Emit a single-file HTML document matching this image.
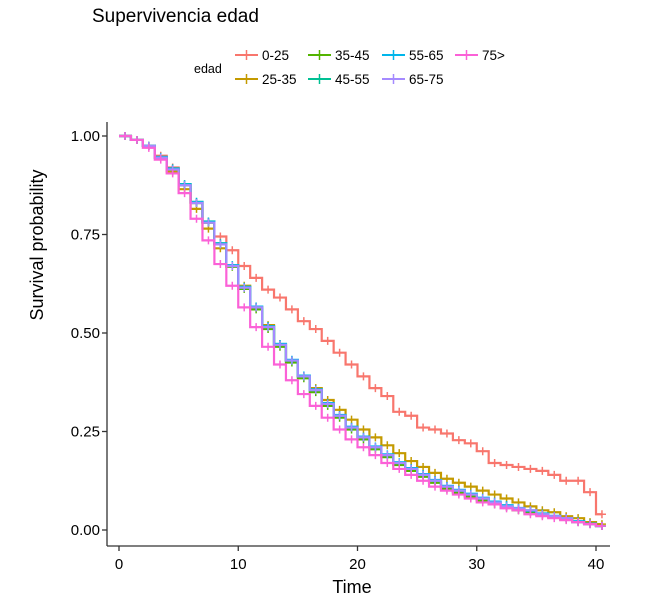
<!DOCTYPE html>
<html><head><meta charset="utf-8"><style>
body{margin:0;background:#fff;}
svg{display:block;font-family:"Liberation Sans",Arial,sans-serif;}
</style></head><body>
<svg id="chart" width="652" height="610">
<text x="92" y="22" font-size="19" fill="#000">Supervivencia edad</text>
<g id="legend">
<text x="194" y="73" font-size="12.5">edad</text>
</g>
<line x1="107" y1="122" x2="107" y2="546" stroke="#333" stroke-width="1.3"/>
<line x1="107" y1="546" x2="610" y2="546" stroke="#333" stroke-width="1.3"/>
<g id="axes"></g>
<g id="series"></g>
<text x="352" y="593" font-size="18" text-anchor="middle">Time</text>
<text transform="translate(43,245) rotate(-90)" font-size="18" text-anchor="middle">Survival probability</text>
</svg>
<script>
const groups = ["0-25","25-35","35-45","45-55","55-65","65-75","75>"];
const colors = ["#F8766D","#C49A00","#53B400","#00C094","#00B6EB","#A58AFF","#FB61D7"];
const xTicks = [0,10,20,30,40];
const yTicks = [0,0.25,0.5,0.75,1];
const yTickLabels = ["0.00","0.25","0.50","0.75","1.00"];
const s0_25 = [1,.99,.975,.95,.92,.875,.83,.78,.745,.71,.67,.64,.61,.59,.56,.53,.51,.48,.45,.42,.39,.36,.34,.30,.29,.26,.255,.245,.228,.22,.20,.17,.165,.16,.155,.15,.14,.125,.125,.096,.04];
const s25_35 = [1,.99,.975,.945,.91,.865,.815,.765,.715,.67,.62,.565,.52,.47,.43,.39,.36,.33,.305,.28,.255,.235,.215,.195,.175,.16,.145,.13,.12,.11,.10,.09,.08,.07,.06,.05,.045,.035,.03,.02,.015];
const s35_45 = [1,.99,.975,.945,.915,.875,.83,.78,.725,.668,.612,.56,.51,.465,.425,.385,.35,.315,.285,.255,.23,.205,.185,.165,.15,.135,.12,.105,.095,.085,.075,.065,.058,.05,.045,.038,.032,.027,.02,.015,.01];
const s45_55 = [1,.99,.975,.947,.918,.878,.833,.783,.728,.672,.617,.567,.517,.472,.43,.39,.355,.32,.29,.26,.235,.21,.19,.17,.155,.14,.125,.11,.10,.09,.08,.07,.062,.055,.048,.04,.035,.03,.022,.016,.01];
const s55_65 = [1,.99,.975,.946,.917,.877,.832,.782,.727,.672,.617,.567,.517,.472,.432,.392,.357,.322,.292,.262,.237,.212,.192,.172,.157,.142,.127,.112,.102,.092,.082,.072,.063,.056,.05,.042,.036,.03,.022,.016,.01];
const s65_75 = [1,.99,.975,.945,.915,.875,.83,.78,.725,.67,.615,.565,.515,.47,.43,.39,.355,.32,.29,.26,.235,.21,.19,.17,.155,.14,.125,.11,.10,.09,.08,.07,.06,.055,.05,.04,.035,.03,.02,.015,.01];
const s75 = [1,.99,.97,.94,.905,.855,.79,.735,.675,.62,.565,.515,.465,.42,.38,.345,.315,.285,.255,.23,.21,.19,.17,.155,.14,.125,.11,.10,.09,.08,.07,.065,.055,.05,.04,.035,.03,.025,.02,.015,.01];
const seriesVals = [s0_25,s25_35,s35_45,s45_55,s55_65,s65_75,s75];

const X = t => 119 + t*(596-119)/40;
const Y = v => 530 - v*(530-136);
const NS="http://www.w3.org/2000/svg";
const axes=document.getElementById('axes');
function mk(tag,attrs,parent){const e=document.createElementNS(NS,tag);for(const k in attrs)e.setAttribute(k,attrs[k]);parent.appendChild(e);return e;}
xTicks.forEach(t=>{
  const l=mk('line',{x1:X(t),x2:X(t),y1:546,y2:551,stroke:'#333','stroke-width':1.3},axes);
  
  
  const tx=mk('text',{x:X(t),y:569,'font-size':15,'text-anchor':'middle'},axes);
  tx.textContent=t;
  
  
});
yTicks.forEach((v,i)=>{
  const l=mk('line',{x1:102,x2:107,y1:Y(v),y2:Y(v),stroke:'#333','stroke-width':1.3},axes);
  
  
  const tx=mk('text',{x:100,y:Y(v)+5,'font-size':15,'text-anchor':'end'},axes);
  tx.textContent=yTickLabels[i];
  
  
});
const sg=document.getElementById('series');
seriesVals.forEach((vals,gi)=>{
  const g=mk('g',{},sg);
  
  
  let d='M'+X(0)+' '+Y(vals[0]);
  for(let t=1;t<vals.length;t++){d+=' H'+X(t)+' V'+Y(vals[t]);}
  d+=' H'+X(40.5);
  const p=mk('path',{d:d,fill:'none',stroke:colors[gi],'stroke-width':2.2},g);
  
  
  for(let t=0;t<vals.length;t++){
    const cx=X(t+0.5), cy=Y(vals[t]);
    const c=mk('path',{d:`M${cx-4} ${cy}H${cx+4}M${cx} ${cy-4}V${cy+4}`,stroke:colors[gi],'stroke-width':1.5},g);
    
    
  }
});
const lg=document.getElementById('legend');
const legendPos=[[235,55],[235,79],[308,55],[308,79],[382,55],[382,79],[455,55]];
groups.forEach((n,i)=>{
  const [x,y]=legendPos[i];
  const e=mk('g',{},lg);
  
  
  mk('line',{x1:x,x2:x+23,y1:y,y2:y,stroke:colors[i],'stroke-width':2},e);
  mk('line',{x1:x+11.5,x2:x+11.5,y1:y-5,y2:y+5,stroke:colors[i],'stroke-width':1.5},e);
  const tx=mk('text',{x:x+27,y:y+5,'font-size':13.5},e);
  tx.textContent=n;
});
</script>
</body></html>
